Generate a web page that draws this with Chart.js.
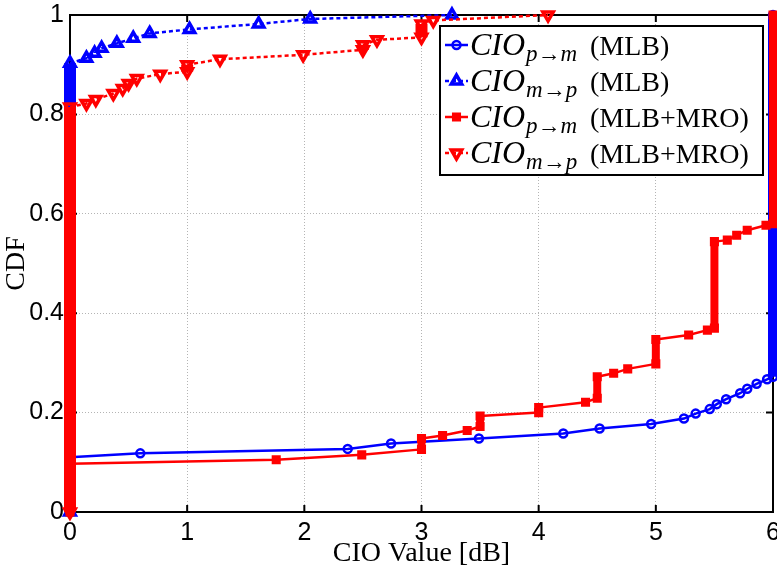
<!DOCTYPE html>
<html>
<head>
<meta charset="utf-8">
<script src="https://cdn.jsdelivr.net/npm/chart.js@4"></script>
<style>
  html, body { margin: 0; padding: 0; background: #fff; }
  canvas { display: block; }
</style>
</head>
<body>
<canvas id="cdf" width="777" height="571"></canvas>
<script>
// CIO p->m, MLB
const circX = [0, 0, 0.60, 2.37, 2.74, 3.49, 4.21, 4.52, 4.96, 5.24, 5.34, 5.46, 5.52, 5.60, 5.72, 5.78, 5.86, 5.95, 6, 6];
const circY = [0, 0.110, 0.118, 0.127, 0.138, 0.148, 0.158, 0.168, 0.177, 0.188, 0.198, 0.207, 0.217, 0.227, 0.239, 0.248, 0.258, 0.267, 0.272, 1.0];

// CIO m->p, MLB
const triUpX = [0, 0, 0.14, 0.21, 0.27, 0.40, 0.54, 0.68, 1.02, 1.61, 2.05, 3.26];
const triUpY = [0, 0.903, 0.913, 0.923, 0.933, 0.943, 0.953, 0.963, 0.971, 0.982, 0.992, 1.0];

// CIO p->m, MLB+MRO
const sqX = [0, 0, 1.76, 2.49, 3.00, 3.00, 3.18, 3.39, 3.50, 3.50, 4.00, 4.00, 4.40, 4.50, 4.50, 4.64, 4.76, 5.00, 5.00, 5.28, 5.44, 5.50, 5.50, 5.61, 5.69, 5.78, 5.94, 6, 6];
const sqY = [0, 0.097, 0.105, 0.115, 0.126, 0.148, 0.154, 0.164, 0.172, 0.193, 0.200, 0.210, 0.221, 0.229, 0.272, 0.279, 0.288, 0.298, 0.347, 0.356, 0.366, 0.370, 0.544, 0.547, 0.557, 0.567, 0.577, 0.580, 1.0];

// CIO m->p, MLB+MRO
const triDnX = [0, 0, 0.14, 0.22, 0.37, 0.45, 0.50, 0.57, 0.77, 1.00, 1.00, 1.28, 1.99, 2.50, 2.50, 2.62, 3.00, 3.00, 3.10, 4.08];
const triDnY = [0, 0.815, 0.822, 0.830, 0.842, 0.852, 0.862, 0.872, 0.881, 0.886, 0.900, 0.911, 0.920, 0.930, 0.940, 0.950, 0.955, 0.982, 0.989, 1.0];

const xTickLabels = ['0', '1', '2', '3', '4', '5', '6'];
const yTickLabels = ['0', '0.2', '0.4', '0.6', '0.8', '1'];
const xTitle = 'CIO Value [dB]';
const yTitle = 'CDF';

const BLUE = '#0000ff';
const RED = '#ff0000';
const DOTS = [4, 3];

function pts(xs, ys) {
    return xs.map((x, i) => ({ x: x, y: ys[i] }));
}

// many samples share one x value: draw the run as a thick stack instead of single markers
function runStyle(width) {
    const vertical = (c) => c.p0.parsed.x === c.p1.parsed.x;
    return {
        borderWidth: (c) => vertical(c) ? width : undefined,
        borderDash: (c) => vertical(c) ? [] : undefined,
    };
}

const datasets = [
    {
        label: 'p→m|(MLB)',
        data: pts(circX, circY),
        borderColor: BLUE,
        backgroundColor: 'rgba(0,0,0,0)',
        borderWidth: 2.5,
        pointStyle: 'circle',
        pointRadius: 4,
        pointBorderWidth: 2.5,
        segment: runStyle(10),
        order: 3,
    },
    {
        label: 'm→p|(MLB)',
        data: pts(triUpX, triUpY),
        borderColor: BLUE,
        backgroundColor: 'rgba(0,0,0,0)',
        borderWidth: 2.5,
        borderDash: DOTS,
        pointStyle: 'triangle',
        pointRadius: 6,
        pointBorderWidth: 3.5,
        segment: runStyle(12),
        order: 2,
    },
    {
        label: 'p→m|(MLB+MRO)',
        data: pts(sqX, sqY),
        borderColor: RED,
        backgroundColor: RED,
        borderWidth: 2.5,
        pointStyle: 'rect',
        pointRadius: 5,
        pointBorderWidth: 2,
        segment: runStyle(8),
        order: 1,
    },
    {
        label: 'm→p|(MLB+MRO)',
        data: pts(triDnX, triDnY),
        borderColor: RED,
        backgroundColor: 'rgba(0,0,0,0)',
        borderWidth: 2.5,
        borderDash: DOTS,
        pointStyle: 'triangle',
        pointRotation: 180,
        pointRadius: 6,
        pointBorderWidth: 3.5,
        segment: runStyle(12),
        order: 0,
    },
];
datasets.forEach(d => {
    d.fill = false;
    d.tension = 0;
    d.clip = false;
    d.pointBorderColor = d.borderColor;
    d.pointBackgroundColor = d.backgroundColor;
});

// box around the axes with inward tick marks
const framePlugin = {
    id: 'frame',
    beforeDatasetsDraw(chart) {
        const { ctx, chartArea: a, scales } = chart;
        const tl = 7;
        ctx.save();
        ctx.strokeStyle = '#000';
        ctx.lineWidth = 2;
        ctx.beginPath();
        scales.x.ticks.forEach(t => {
            const px = scales.x.getPixelForValue(t.value);
            ctx.moveTo(px, a.bottom); ctx.lineTo(px, a.bottom - tl);
            ctx.moveTo(px, a.top); ctx.lineTo(px, a.top + tl);
        });
        scales.y.ticks.forEach(t => {
            const py = scales.y.getPixelForValue(t.value);
            ctx.moveTo(a.left, py); ctx.lineTo(a.left + tl, py);
            ctx.moveTo(a.right, py); ctx.lineTo(a.right - tl, py);
        });
        ctx.stroke();
        ctx.strokeRect(a.left, a.top, a.right - a.left, a.bottom - a.top);
        ctx.restore();
    }
};

// legend with subscripted CIO labels
const legendPlugin = {
    id: 'cioLegend',
    afterDraw(chart) {
        const ctx = chart.ctx;
        const box = { x: 440, y: 26, w: 323, h: 149 };
        ctx.save();
        ctx.fillStyle = '#fff';
        ctx.fillRect(box.x, box.y, box.w, box.h);
        ctx.strokeStyle = '#000';
        ctx.lineWidth = 2;
        ctx.strokeRect(box.x, box.y, box.w, box.h);

        chart.data.datasets.forEach((ds, i) => {
            const yc = box.y + 19 + i * 36;
            const [sub, tag] = ds.label.split('|');

            ctx.strokeStyle = ds.borderColor;
            ctx.lineWidth = ds.borderWidth;
            ctx.setLineDash(ds.borderDash || []);
            ctx.beginPath();
            ctx.moveTo(445, yc);
            ctx.lineTo(468, yc);
            ctx.stroke();
            ctx.setLineDash([]);

            ctx.fillStyle = ds.backgroundColor;
            ctx.lineWidth = ds.pointBorderWidth;
            Chart.helpers.drawPoint(ctx, {
                pointStyle: ds.pointStyle,
                rotation: ds.pointRotation || 0,
                radius: ds.pointRadius,
                borderWidth: ds.pointBorderWidth,
            }, 456.5, yc);

            ctx.fillStyle = '#000';
            ctx.textBaseline = 'alphabetic';
            ctx.textAlign = 'left';
            const base = yc + 10;
            ctx.font = 'italic 32px "Liberation Serif"';
            ctx.fillText('CIO', 470, base);
            const w = ctx.measureText('CIO').width;
            ctx.font = 'italic 23px "Liberation Serif"';
            ctx.fillText(sub, 470 + w + 1, base + 6);
            ctx.font = '28px "Liberation Serif"';
            ctx.fillText(tag, 590, base);
        });
        ctx.restore();
    }
};

const tickFont = { family: 'Liberation Sans', size: 25 };
const titleFont = { family: 'Liberation Serif', size: 28 };
const gridStyle = { color: '#b4b4b4', lineWidth: 1, drawTicks: false };

new Chart(document.getElementById('cdf'), {
    type: 'line',
    data: { datasets: datasets },
    options: {
        responsive: false,
        animation: false,
        layout: { autoPadding: false, padding: { top: 15, right: 4, bottom: 0, left: 0 } },
        plugins: {
            legend: { display: false },
            tooltip: { enabled: false },
        },
        scales: {
            x: {
                type: 'linear',
                min: 0,
                max: 6,
                ticks: {
                    stepSize: 1, color: '#000', font: tickFont, padding: 6, maxRotation: 0,
                    callback: (v, i) => xTickLabels[i],
                },
                grid: gridStyle,
                border: { display: false, dash: [1, 2] },
                title: { display: true, text: xTitle, color: '#000', font: titleFont, padding: { top: 0, bottom: 1 } },
                afterFit(scale) {
                    scale.height = 59;
                    scale.paddingLeft = 0;
                    scale.paddingRight = 0;
                },
            },
            y: {
                type: 'linear',
                min: 0,
                max: 1,
                ticks: {
                    stepSize: 0.2, color: '#000', font: tickFont, padding: 6,
                    callback: (v, i) => yTickLabels[i],
                },
                grid: gridStyle,
                border: { display: false, dash: [1, 2] },
                title: { display: true, text: yTitle, color: '#000', font: titleFont, padding: 0 },
                afterFit(scale) {
                    scale.width = 70;
                    scale.paddingTop = 0;
                    scale.paddingBottom = 0;
                },
            },
        },
    },
    plugins: [framePlugin, legendPlugin],
});
</script>
</body>
</html>
